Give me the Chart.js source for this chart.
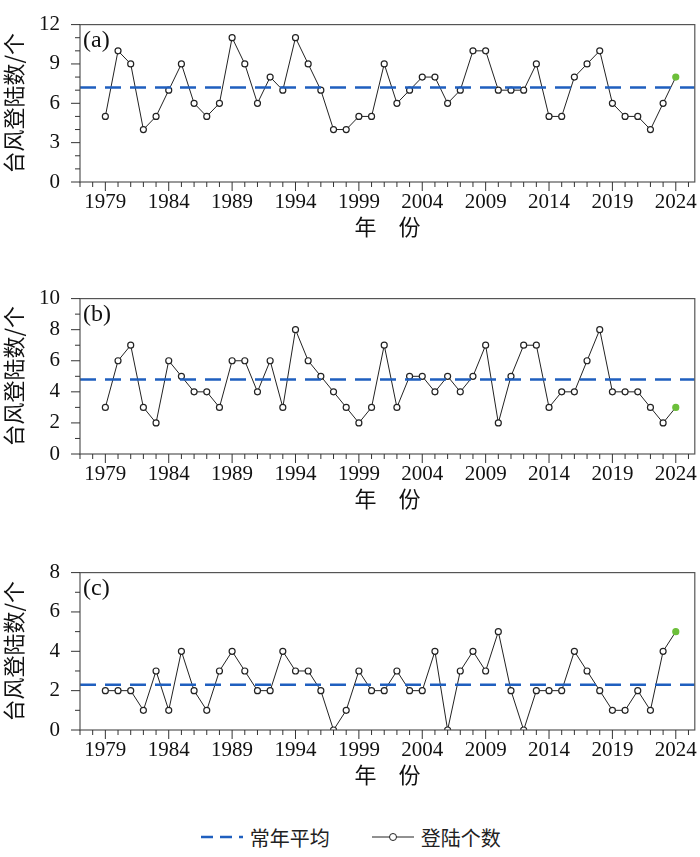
<!DOCTYPE html>
<html lang="zh">
<head>
<meta charset="UTF-8">
<title>台风登陆数</title>
<script src="https://cdn.jsdelivr.net/npm/chart.js"></script>
<style>
  body { margin: 0; background: #fff; width: 700px; height: 857px; overflow: hidden; }
  .panel { position: absolute; left: 0; width: 700px; height: 242px; }
  #legend { position: absolute; top: 820px; left: 0; width: 700px; text-align: center;
            font: 20px "Noto Sans CJK SC", sans-serif; color: #222; }
  .item { display: inline-flex; align-items: center; margin: 0 18px; }
</style>
</head>
<body>
<div class="panel" style="top:0"><canvas id="ca"></canvas></div>
<div class="panel" style="top:274px;height:240px"><canvas id="cb"></canvas></div>
<div class="panel" style="top:548px"><canvas id="cc"></canvas></div>
<div id="legend">
  <span class="item"><svg width="46" height="12"><line x1="2" y1="6" x2="44" y2="6" stroke="#1f5fbf" stroke-width="2.5" stroke-dasharray="12,7"/></svg>&nbsp;常年平均</span>
  <span class="item"><svg width="46" height="12"><line x1="2" y1="6" x2="44" y2="6" stroke="#222" stroke-width="1"/><circle cx="23" cy="6" r="3.5" fill="#fff" stroke="#222"/></svg>&nbsp;登陆个数</span>
</div>
<script>
// Years 1979-2024
const years = [];
for (let y = 1979; y <= 2024; y++) years.push(y);

const seriesA = [5,10,9,4,5,7,9,6,5,6,11,9,6,8,7,11,9,7,4,4,5,5,9,6,7,8,8,6,7,10,10,7,7,7,9,5,5,8,9,10,6,5,5,4,6,8];
const seriesB = [3,6,7,3,2,6,5,4,4,3,6,6,4,6,3,8,6,5,4,3,2,3,7,3,5,5,4,5,4,5,7,2,5,7,7,3,4,4,6,8,4,4,4,3,2,3];
const seriesC = [2,2,2,1,3,1,4,2,1,3,4,3,2,2,4,3,3,2,0,1,3,2,2,3,2,2,4,0,3,4,3,5,2,0,2,2,2,4,3,2,1,1,2,1,4,5];
const meanA = 7.2, meanB = 4.8, meanC = 2.3;
const xLabels = [1979, 1984, 1989, 1994, 1999, 2004, 2009, 2014, 2019, 2024];

const serif = '"Liberation Serif", "DejaVu Serif", serif';
const cjk = '"Noto Sans CJK SC", sans-serif';

// frame + tick marks drawn from the scales
const framePlugin = {
  id: 'frame',
  afterDraw(chart, args, opts) {
    const { ctx, chartArea: a, scales } = chart;
    ctx.save();
    ctx.strokeStyle = '#555';
    ctx.lineWidth = 1.2;
    ctx.strokeRect(a.left, a.top, a.right - a.left, a.bottom - a.top);
    ctx.strokeStyle = '#333';
    ctx.lineWidth = 1;
    for (let y = 1977; y <= 2025; y++) {
      const px = scales.x.getPixelForValue(y);
      const len = xLabels.includes(y) ? 9 : 5;
      ctx.beginPath(); ctx.moveTo(px, a.bottom); ctx.lineTo(px, a.bottom + len); ctx.stroke();
    }
    for (let v = 0; v <= opts.max; v++) {
      const py = scales.y.getPixelForValue(v);
      const len = v % opts.step === 0 ? 9 : 5;
      ctx.beginPath(); ctx.moveTo(a.left, py); ctx.lineTo(a.left - len, py); ctx.stroke();
    }
    ctx.fillStyle = '#111';
    ctx.font = '24px ' + serif;
    ctx.textBaseline = 'top';
    ctx.fillText(opts.tag, a.left + 3, a.top + 4);
    ctx.restore();
  }
};

function makeChart(id, data, mean, max, step, tag) {
  const n = data.length;
  new Chart(document.getElementById(id), {
    type: 'line',
    data: {
      datasets: [
        {
          data: [{ x: 1977, y: mean }, { x: 2025.5, y: mean }],
          borderColor: '#1f5fbf', borderWidth: 2.5, borderDash: [16, 9],
          pointRadius: 0, fill: false
        },
        {
          data: years.map((y, i) => ({ x: y, y: data[i] })),
          borderColor: '#222', borderWidth: 1, fill: false, tension: 0,
          pointRadius: 3,
          pointBackgroundColor: data.map((v, i) => i === n - 1 ? '#6cbf3a' : '#fff'),
          pointBorderColor: data.map((v, i) => i === n - 1 ? '#6cbf3a' : '#222'),
          pointBorderWidth: 1.2
        }
      ]
    },
    options: {
      responsive: true, maintainAspectRatio: false, animation: false,
      layout: { padding: { top: 10, right: 3, left: 0, bottom: 0 } },
      plugins: { legend: { display: false }, tooltip: { enabled: false }, frame: { max, step, tag } },
      scales: {
        x: {
          type: 'linear', min: 1977, max: 2025.5,
          afterBuildTicks: s => { s.ticks = xLabels.map(v => ({ value: v })); },
          afterFit: s => { s.height = 60; s.paddingRight = 0; s.paddingLeft = 0; },
          grid: { display: false },
          border: { display: false },
          ticks: { color: '#111', font: { family: serif, size: 21 }, padding: 0, maxRotation: 0, callback: v => v },
          title: { display: true, text: '年　份', color: '#111', font: { family: cjk, size: 22 }, padding: { top: 0, bottom: 2 } }
        },
        y: {
          min: 0, max: max,
          ticks: { stepSize: step, color: '#111', font: { family: serif, size: 21 }, padding: 12 },
          afterFit: s => { s.width = 80; },
          grid: { display: false },
          border: { display: false },
          title: { display: true, text: '台风登陆数/个', color: '#111', font: { family: cjk, size: 22 }, padding: 0 }
        }
      }
    },
    plugins: [framePlugin]
  });
}

makeChart('ca', seriesA, meanA, 12, 3, '(a)');
makeChart('cb', seriesB, meanB, 10, 2, '(b)');
makeChart('cc', seriesC, meanC, 8, 2, '(c)');
</script>
</body>
</html>
